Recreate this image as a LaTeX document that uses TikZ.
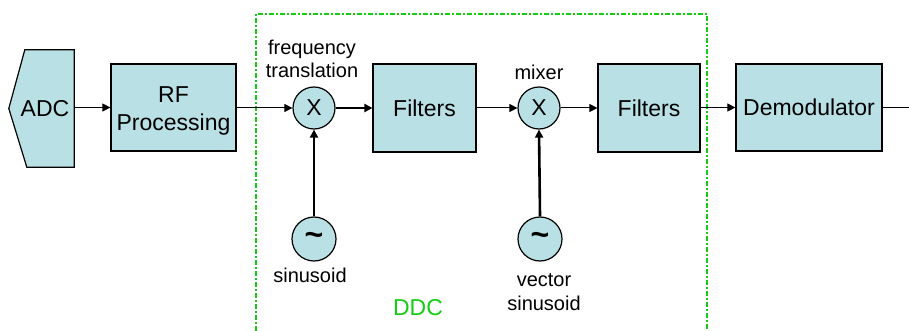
\documentclass[tikz,border=0pt]{standalone}
\usepackage{fontspec}
\setmainfont{Liberation Sans}
\usetikzlibrary{arrows.meta,calc}
\definecolor{boxfill}{RGB}{185,224,228}
\definecolor{ddcgreen}{RGB}{20,204,20}
\tikzset{
  block/.style={draw, line width=1.2pt, fill=boxfill, align=center,
    font=\fontsize{23}{28}\selectfont, inner sep=0pt},
  mult/.style={draw, line width=1.2pt, fill=boxfill, circle, minimum size=42pt,
    inner sep=0pt, font=\fontsize{23}{26}\selectfont},
  osc/.style={draw, line width=1.2pt, fill=boxfill, circle, minimum size=44pt,
    inner sep=0pt, font=\fontsize{32}{32}\selectfont\bfseries},
  lbl/.style={align=center, font=\fontsize{20}{23.5}\selectfont, inner sep=0pt},
  sig/.style={line width=1pt, -{Triangle[length=8pt,width=8pt]}},
  sigthick/.style={line width=2pt, -{Triangle[length=8pt,width=8pt]}},
  lo/.style={line width=2.6pt, -{Triangle[length=8pt,width=8pt]}},
  plain/.style={line width=1pt}
}
\begin{document}
\begin{tikzpicture}[x=1pt,y=-1pt]
\useasboundingbox (0,0) rectangle (909,331);

% DDC boundary (open at the bottom)
\draw[ddcgreen, line width=2pt, dash pattern=on 5pt off 2pt on 2pt off 2pt]
  (256,331) -- (256,14) -- (707,14) -- (707,331);
\node[font=\fontsize{23}{26}\selectfont, text=ddcgreen] (ddc) at (418,308) {DDC};

% ADC with pointed left side
\node[minimum width=65pt, minimum height=117pt, inner sep=0pt,
      font=\fontsize{23}{26}\selectfont] (adc) at (41.5,108.5) {};
\draw[line width=1.2pt, fill=boxfill]
  ($(adc.north west)+(16,0)$) -- (adc.north east) -- (adc.south east)
  -- ($(adc.south west)+(18,0)$) -- (adc.west) -- cycle;
\node[font=\fontsize{23}{26}\selectfont] at ($(adc.center)+(3.5,0)$) {ADC};

% processing chain
\node[block, minimum width=125pt, minimum height=87pt] (rf) at (173.5,107.5) {};
\node[align=center, font=\fontsize{23}{28}\selectfont, inner sep=0pt]
  at ($(rf.center)+(0,3)$) {RF\\Processing};
\node[mult] (mix1) at (314,108) {X};
\node[block, minimum width=103pt, minimum height=88pt] (filt1) at (424.5,108) {Filters};
\node[mult] (mix2) at (539,108) {X};
\node[block, minimum width=102pt, minimum height=88pt] (filt2) at (649,108) {Filters};
\node[block, minimum width=146pt, minimum height=87pt] (demod) at (809,107.5) {Demodulator};
\coordinate (out) at (909,107.5);

% local oscillators
\node[osc] (osc1) at (314,239) {\textasciitilde};
\node[osc] (osc2) at (540,239) {\textasciitilde};

% labels
\node[lbl] (lfreq) at (312,59) {frequency\\translation};
\node[lbl] (lmix) at (539,72) {mixer};
\node[lbl] (lsin) at (310,275) {sinusoid};
\node[lbl] (lvec) at (544,292) {vector\\sinusoid};

% connectors
\draw[sig] (adc.east |- rf.west) -- (rf.west);
\draw[sig] (rf.east |- mix1.west) -- (mix1.west);
\draw[sigthick] (mix1.east) -- (filt1.west |- mix1.east);
\draw[sig] (filt1.east |- mix2.west) -- (mix2.west);
\draw[sig] (mix2.east) -- (filt2.west |- mix2.east);
\draw[sig] (filt2.east |- demod.west) -- (demod.west);
\draw[plain] (demod.east) -- (out);
\draw[lo] (osc1.north) -- (mix1.south);
\draw[lo] (osc2.north) -- (mix2.south);
\end{tikzpicture}
\end{document}
